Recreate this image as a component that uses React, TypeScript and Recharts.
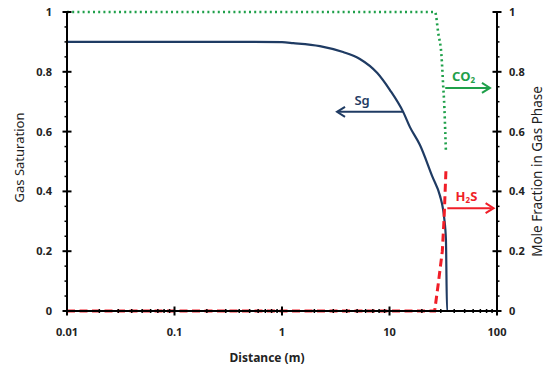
import React from 'react';
import { LineChart, Line, XAxis, YAxis, ReferenceLine, Label } from 'recharts';

// Gas saturation along distance (m)
const sgData = [
  { x: 0.01, y: 0.9 }, { x: 0.1, y: 0.9 }, { x: 0.5, y: 0.9 }, { x: 1, y: 0.899 },
  { x: 1.27, y: 0.896 }, { x: 2.25, y: 0.886 }, { x: 3.7, y: 0.866 }, { x: 5.3, y: 0.843 },
  { x: 7.7, y: 0.796 }, { x: 10.1, y: 0.739 }, { x: 13.4, y: 0.666 }, { x: 15.5, y: 0.615 },
  { x: 19.2, y: 0.555 }, { x: 25, y: 0.45 }, { x: 29.5, y: 0.385 }, { x: 31.5, y: 0.34 },
  { x: 32.3, y: 0.31 }, { x: 33.5, y: 0.237 }, { x: 34.3, y: 0 }, { x: 100, y: 0 },
];

// Mole fractions in gas phase
const co2Data = [
  { x: 0.01, y: 1 }, { x: 26.5, y: 1 }, { x: 28.4, y: 0.93 }, { x: 30.5, y: 0.85 },
  { x: 31.5, y: 0.76 }, { x: 32.4, y: 0.68 }, { x: 33, y: 0.6 }, { x: 33.5, y: 0.53 },
];

const h2sData = [
  { x: 0.01, y: 0 }, { x: 26.3, y: 0 }, { x: 28.4, y: 0.09 }, { x: 31, y: 0.2 },
  { x: 32.2, y: 0.31 }, { x: 33.5, y: 0.47 },
];

const majorX = [0.01, 0.1, 1, 10, 100];
const minorX = [0.02, 0.03, 0.04, 0.05, 0.06, 0.07, 0.08, 0.09, 0.2, 0.3, 0.4, 0.5, 0.6, 0.7, 0.8, 0.9,
  2, 3, 4, 5, 6, 7, 8, 9, 20, 30, 40, 50, 60, 70, 80, 90];
const xTicks = [...majorX, ...minorX].sort((a, b) => a - b);
const majorY = [0, 0.2, 0.4, 0.6, 0.8, 1];
const yTicks = [0, 0.05, 0.1, 0.15, 0.2, 0.25, 0.3, 0.35, 0.4, 0.45, 0.5, 0.55, 0.6, 0.65, 0.7, 0.75, 0.8, 0.85, 0.9, 0.95, 1];

// annotation arrows in data units
const sgArrow = { y: 0.666, from: 13.4, to: 3.25 };
const co2Arrow = { y: 0.746, from: 33, to: 86 };
const h2sArrow = { y: 0.344, from: 34.5, to: 93 };

const NAVY = '#1f3b63';
const GREEN = '#1fa04a';
const RED = '#f01e28';
const FONT = '"Noto Sans", sans-serif';

const isMajorY = (v: number) => majorY.some((m) => Math.abs(m - v) < 1e-6);

const XTick = (props: any) => {
  const { x, y, payload } = props;
  const major = majorX.includes(payload.value);
  const h = major ? 4.5 : 2;
  return (
    <g>
      <line x1={x} x2={x} y1={y - h} y2={y + h} stroke="#000" strokeWidth={major ? 2 : 1.5} />
      {major && (
        <text x={x} y={y + 25} textAnchor="middle" fontSize={11} fontWeight="bold" fontFamily={FONT} fill="#222">
          {payload.value}
        </text>
      )}
    </g>
  );
};

const YTickL = (props: any) => {
  const { x, y, payload } = props;
  const major = isMajorY(payload.value);
  const h = major ? 4.5 : 2.5;
  return (
    <g>
      <line x1={x - h} x2={x + (major ? h : 1)} y1={y} y2={y} stroke="#000" strokeWidth={major ? 2 : 1.5} />
      {major && (
        <text x={x - 15} y={y + 4} textAnchor="end" fontSize={11} fontWeight="bold" fontFamily={FONT} fill="#222">
          {payload.value}
        </text>
      )}
    </g>
  );
};

const YTickR = (props: any) => {
  const { x, y, payload } = props;
  const major = isMajorY(payload.value);
  const h = major ? 4.5 : 2.5;
  return (
    <g>
      <line x1={x - (major ? h : 1)} x2={x + h} y1={y} y2={y} stroke="#000" strokeWidth={major ? 2 : 1.5} />
      {major && (
        <text x={x + 12} y={y + 4} textAnchor="start" fontSize={11} fontWeight="bold" fontFamily={FONT} fill="#222">
          {payload.value}
        </text>
      )}
    </g>
  );
};

const arrowShape = (color: string, text: React.ReactNode, dx: number, weight: string) => (props: any) => {
  const { x1, y1, x2, y2 } = props;
  const dir = x2 > x1 ? 1 : -1;
  const mid = (x1 + x2) / 2 + dx;
  return (
    <g>
      <line x1={x1} y1={y1} x2={x2 - dir * 2} y2={y2} stroke={color} strokeWidth={2} />
      <polyline
        points={`${x2 - dir * 8},${y2 - 5} ${x2},${y2} ${x2 - dir * 8},${y2 + 5}`}
        fill="none" stroke={color} strokeWidth={2}
      />
      <text x={mid} y={y1 - 7} textAnchor="middle" fontSize={13} fontWeight={weight} fontFamily={FONT} fill={color}>
        {text}
      </text>
    </g>
  );
};

export default function App() {
  return (
    <div style={{ position: 'absolute', left: 0, top: 0, background: '#fff' }}>
      <LineChart width={553} height={369} margin={{ top: 12, right: 0, bottom: 0, left: 0 }}>
        <XAxis
          dataKey="x" type="number" scale="log" domain={[0.01, 100]} ticks={xTicks} interval={0}
          allowDataOverflow tick={<XTick />} tickLine={false} tickSize={0} tickMargin={0}
          axisLine={{ stroke: '#000', strokeWidth: 2 }} height={58}
        >
          <Label value="Distance (m)" position="insideBottom" offset={7} dx={-15} fontSize={12} fontWeight="bold" fontFamily={FONT} fill="#222" />
        </XAxis>
        <YAxis
          yAxisId="left" domain={[0, 1]} ticks={yTicks} interval={0} tick={<YTickL />} tickLine={false}
          tickSize={0} tickMargin={0} axisLine={{ stroke: '#000', strokeWidth: 2 }} width={67}
        >
          <Label value="Gas Saturation" angle={-90} position="insideLeft" offset={19} dy={-4} fontSize={13} fontFamily={FONT} fill="#222" style={{ textAnchor: 'middle' }} />
        </YAxis>
        <YAxis
          yAxisId="right" orientation="right" domain={[0, 1]} ticks={yTicks} interval={0} tick={<YTickR />}
          tickLine={false} tickSize={0} tickMargin={0} axisLine={{ stroke: '#000', strokeWidth: 2 }} width={56}
        >
          <Label value="Mole Fraction in Gas Phase" angle={-90} position="insideRight" offset={16} dy={10} fontSize={13.5} fontFamily={FONT} fill="#222" style={{ textAnchor: 'middle' }} />
        </YAxis>

        <Line data={sgData} yAxisId="left" dataKey="y" stroke={NAVY} strokeWidth={2.2} dot={false} isAnimationActive={false} type="monotoneX" />
        <Line data={co2Data} yAxisId="right" dataKey="y" stroke={GREEN} strokeWidth={2.6} strokeDasharray="2 3.2" dot={false} isAnimationActive={false} type="monotoneX" />
        <Line data={h2sData} yAxisId="right" dataKey="y" stroke={RED} strokeWidth={3} strokeDasharray="8 4.5" dot={false} isAnimationActive={false} type="linear" />

        <ReferenceLine yAxisId="left" segment={[{ x: sgArrow.from, y: sgArrow.y }, { x: sgArrow.to, y: sgArrow.y }]}
          shape={arrowShape(NAVY, 'Sg', -8, '600')} ifOverflow="visible" />
        <ReferenceLine yAxisId="right" segment={[{ x: co2Arrow.from, y: co2Arrow.y }, { x: co2Arrow.to, y: co2Arrow.y }]}
          shape={arrowShape(GREEN, <>CO<tspan fontSize={8} dy={2}>2</tspan></>, -4, 'bold')} ifOverflow="visible" />
        <ReferenceLine yAxisId="right" segment={[{ x: h2sArrow.from, y: h2sArrow.y }, { x: h2sArrow.to, y: h2sArrow.y }]}
          shape={arrowShape(RED, <>H<tspan fontSize={8} dy={2}>2</tspan><tspan dy={-2}>S</tspan></>, -4, 'bold')} ifOverflow="visible" />
      </LineChart>
    </div>
  );
}
